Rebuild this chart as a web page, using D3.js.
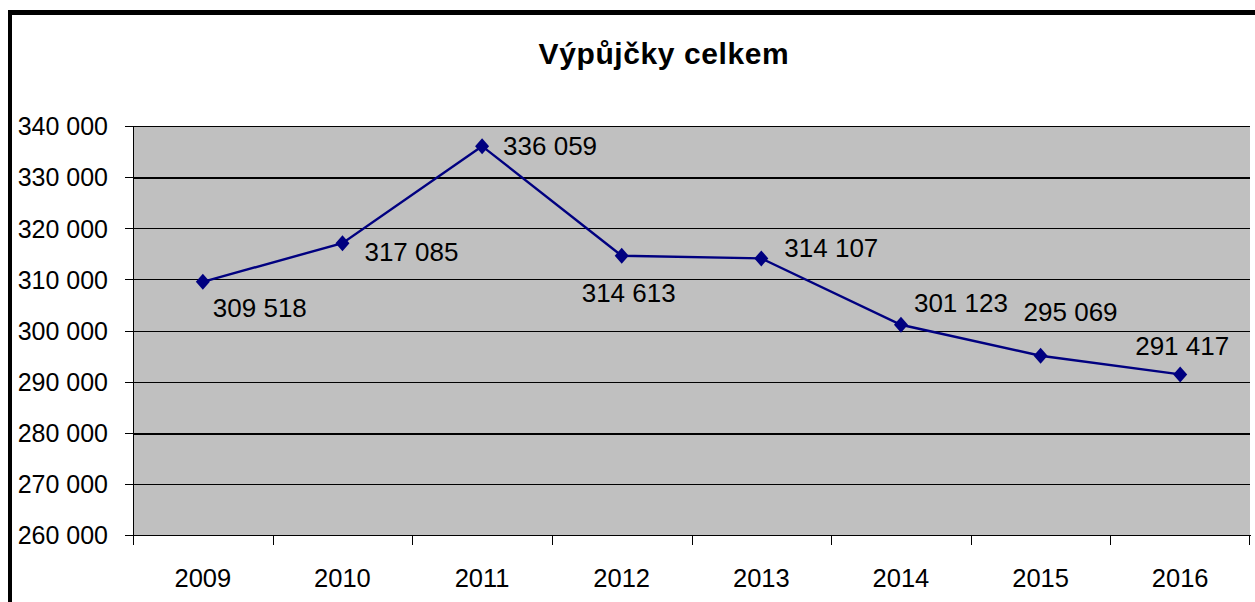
<!DOCTYPE html>
<html>
<head>
<meta charset="utf-8">
<script src="https://cdn.jsdelivr.net/npm/d3@7"></script>
<style>
  body { margin: 0; background: #fff; }
  svg text { font-family: "Liberation Sans", Arial, sans-serif; fill: #000; }
</style>
</head>
<body>
<div id="chart"></div>
<script>
// data
var years = ['2009', '2010', '2011', '2012', '2013', '2014', '2015', '2016'];
var loans = [309518, 317085, 336059, 314613, 314107, 301123, 295069, 291417];
var yTicks = [260000, 270000, 280000, 290000, 300000, 310000, 320000, 330000, 340000];
var title = 'Výpůjčky celkem';

// where each value label sits relative to its point (dx, dy)
var labelOffsets = [[10, 35], [22, 18], [21, 9], [-40, 46], [23, -1], [13, -13], [-17, -35], [-45, -19]];

var W = 1255, H = 602;
var plot = {left: 133, right: 1250, top: 126, bottom: 535};

var svg = d3.select('#chart').append('svg')
  .attr('width', W)
  .attr('height', H);

// outer frame (only left and top visible)
svg.append('rect').attr('x', 8).attr('y', 10).attr('width', W).attr('height', 5).attr('fill', '#000');
svg.append('rect').attr('x', 8).attr('y', 10).attr('width', 4).attr('height', H).attr('fill', '#000');

svg.append('text')
  .attr('x', 664)
  .attr('y', 64)
  .attr('text-anchor', 'middle')
  .style('font-size', '30px')
  .style('font-weight', 'bold')
  .style('letter-spacing', '0.6px')
  .text(title);

var x = d3.scaleBand()
  .domain(years)
  .range([plot.left, plot.right])
  .padding(0);

var y = d3.scaleLinear()
  .domain([260000, 340000])
  .range([plot.bottom, plot.top]);

var fmt = d3.formatLocale({decimal: ',', thousands: ' ', grouping: [3], currency: ['', '']}).format(',d');

// plot area
svg.append('rect')
  .attr('x', plot.left)
  .attr('y', plot.top)
  .attr('width', plot.right - plot.left)
  .attr('height', plot.bottom - plot.top)
  .attr('fill', '#c0c0c0');

// gridlines
svg.append('g')
  .selectAll('line')
  .data(yTicks.slice(1))
  .enter()
  .append('line')
  .attr('x1', plot.left)
  .attr('x2', plot.right)
  .attr('y1', function(d) { return Math.round(y(d)) + 0.5; })
  .attr('y2', function(d) { return Math.round(y(d)) + 0.5; })
  .attr('stroke', '#000')
  .attr('shape-rendering', 'crispEdges')
  .attr('stroke-width', function(d) { return (d === 330000 || d === 280000) ? 2 : 1; });

// y axis
var yAxis = d3.axisLeft(y)
  .tickValues(yTicks)
  .tickSize(8)
  .tickPadding(17)
  .tickFormat(fmt)
  .offset(0.5);

var yAxisEle = svg.append('g')
  .attr('transform', 'translate(' + plot.left + ',0)')
  .attr('shape-rendering', 'crispEdges')
  .call(yAxis);
yAxisEle.select('.domain').attr('stroke', '#000');
yAxisEle.selectAll('.tick line').attr('stroke', '#000');
yAxisEle.selectAll('text')
  .style('font-size', '25px')
  .attr('dy', '0.35em');

// x axis
var xAxis = d3.axisBottom(x).tickSize(0).tickPadding(34).offset(0.5);
var xAxisEle = svg.append('g')
  .attr('transform', 'translate(0,' + plot.bottom + ')')
  .attr('shape-rendering', 'crispEdges')
  .call(xAxis);
xAxisEle.select('.domain').attr('stroke', '#000');
xAxisEle.selectAll('text').style('font-size', '25.5px');

// category boundary ticks
svg.append('g')
  .attr('shape-rendering', 'crispEdges')
  .selectAll('line')
  .data(years.concat(['end']))
  .enter()
  .append('line')
  .attr('x1', function(d, i) { return i < years.length ? Math.round(x(d)) + 0.5 : plot.right - 0.5; })
  .attr('x2', function(d, i) { return i < years.length ? Math.round(x(d)) + 0.5 : plot.right - 0.5; })
  .attr('y1', plot.bottom)
  .attr('y2', plot.bottom + 10)
  .attr('stroke', '#000');

var cx = function(i) { return x(years[i]) + x.bandwidth() / 2; };

// the line
var line = d3.line()
  .x(function(d, i) { return cx(i); })
  .y(function(d) { return y(d); });

svg.append('path')
  .datum(loans)
  .attr('d', line)
  .attr('fill', 'none')
  .attr('stroke', '#000080')
  .attr('stroke-width', 2.4);

// diamond markers
svg.append('g')
  .selectAll('path')
  .data(loans)
  .enter()
  .append('path')
  .attr('d', 'M0,-8L7,0L0,8L-7,0Z')
  .attr('transform', function(d, i) { return 'translate(' + cx(i) + ',' + y(d) + ')'; })
  .attr('fill', '#000080');

// value labels
svg.append('g')
  .selectAll('text')
  .data(loans)
  .enter()
  .append('text')
  .attr('x', function(d, i) { return cx(i) + labelOffsets[i][0]; })
  .attr('y', function(d, i) { return y(d) + labelOffsets[i][1]; })
  .style('font-size', '26px')
  .text(function(d) { return fmt(d); });
</script>
</body>
</html>
